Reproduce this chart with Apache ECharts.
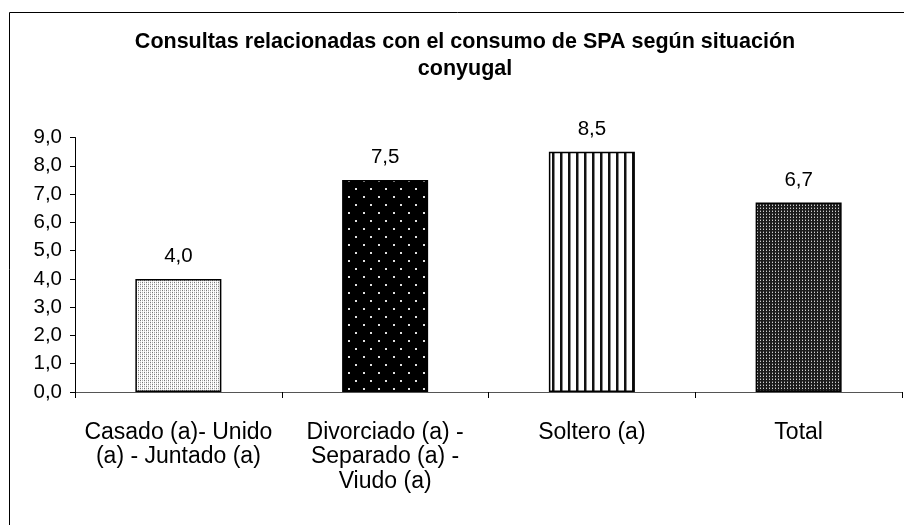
<!DOCTYPE html>
<html><head><meta charset="utf-8">
<script src="https://cdn.jsdelivr.net/npm/echarts@6/dist/echarts.min.js"></script>
<style>html,body{margin:0;padding:0;background:#fff}#c{width:904px;height:525px}</style>
</head><body><div id="c"></div>
<script>
const categories = ['Casado (a)- Unido\n(a) - Juntado (a)', 'Divorciado (a) -\nSeparado (a) -\nViudo (a)', 'Soltero (a)', 'Total'];
const values = [4.0, 7.5, 8.5, 6.7];
const yTicks = [0, 1, 2, 3, 4, 5, 6, 7, 8, 9];
const titleText = 'Consultas relacionadas con el consumo de SPA según situación\nconyugal';

function pattern(w, h, draw) {
  const c = document.createElement('canvas');
  c.width = w; c.height = h;
  draw(c.getContext('2d'));
  return { image: c, repeat: 'repeat' };
}
const pLight = pattern(4, 4, g => {
  g.fillStyle = '#e6e6e6'; g.fillRect(0, 0, 4, 4);
  g.fillStyle = '#ffffff'; g.fillRect(1, 0, 1, 4); g.fillRect(3, 0, 1, 4);
  g.fillStyle = '#777'; g.fillRect(0, 0, 1, 1); g.fillRect(2, 2, 1, 1);
  g.fillStyle = '#aaa'; g.fillRect(2, 0, 1, 1); g.fillRect(0, 2, 1, 1);
});
const pBlack = pattern(15, 16, g => {
  g.fillStyle = '#000'; g.fillRect(0, 0, 15, 16);
  g.fillStyle = '#e0e0e0'; g.fillRect(3, 4, 2, 2); g.fillRect(10, 12, 2, 2);
});
const pStripes = pattern(8, 8, g => {
  g.fillStyle = '#fff'; g.fillRect(0, 0, 8, 8);
  g.fillStyle = '#111'; g.fillRect(0, 0, 2, 8);
  g.fillStyle = '#888'; g.fillRect(2, 0, 1, 8);
});
const pDark = pattern(3, 3, g => {
  g.fillStyle = '#1c1c1c'; g.fillRect(0, 0, 3, 3);
  g.fillStyle = '#d0d0d0'; g.fillRect(1, 1, 1, 1);
  g.fillStyle = '#606060'; g.fillRect(1, 0, 1, 1);
});
const fills = [pLight, pBlack, pStripes, pDark];

const FONT = 'Liberation Sans, Arial, sans-serif';
const chart = echarts.init(document.getElementById('c'), null, { renderer: 'canvas' });
const fmt = v => Number(v).toFixed(1).replace('.', ',');
chart.setOption({
  animation: false,
  textStyle: { fontFamily: FONT },
  title: {
    text: titleText, left: 460, top: 24, textAlign: 'center',
    textStyle: { fontSize: 21.5, fontWeight: 'bold', color: '#000', lineHeight: 27, fontFamily: FONT }
  },
  graphic: [{
    type: 'rect', shape: { x: 9.5, y: 12.5, width: 1000, height: 1000 },
    style: { fill: 'none', stroke: '#000', lineWidth: 1 }, silent: true, z: -1
  }],
  grid: { left: 75, right: 2, top: 137.5, bottom: 133 },
  xAxis: {
    type: 'category', data: categories,
    axisLine: { lineStyle: { color: '#555', width: 1 } },
    axisTick: { show: true, length: 6, lineStyle: { color: '#000' } },
    axisLabel: { color: '#000', fontSize: 23, lineHeight: 24.5, margin: 28, interval: 0, fontFamily: FONT }
  },
  yAxis: {
    type: 'value', min: yTicks[0], max: yTicks[yTicks.length - 1], interval: 1,
    splitLine: { show: false },
    axisLine: { show: true, lineStyle: { color: '#000' } },
    axisTick: { show: true, length: 5, lineStyle: { color: '#000' } },
    axisLabel: { color: '#000', fontSize: 20.5, margin: 13, formatter: fmt, fontFamily: FONT }
  },
  series: [{
    type: 'bar', barWidth: 86,
    data: values.map((v, i) => ({ value: v, itemStyle: { color: fills[i] } })),
    itemStyle: { borderColor: '#000', borderWidth: 1.5 },
    label: { show: true, position: 'top', distance: 12, color: '#000', fontSize: 20.5, fontFamily: FONT, formatter: p => fmt(p.value) }
  }]
});
</script></body></html>
